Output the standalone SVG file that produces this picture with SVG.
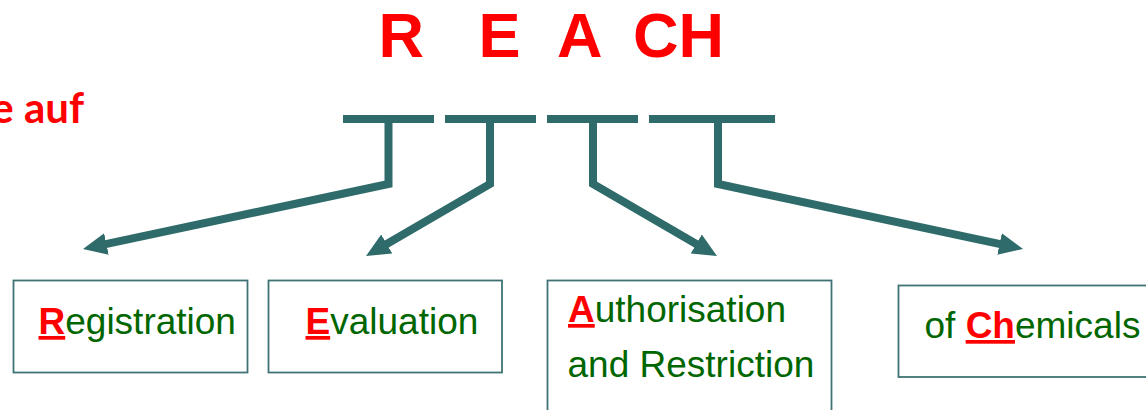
<svg xmlns="http://www.w3.org/2000/svg" width="1146" height="410" viewBox="0 0 1146 410">
  <style>
    .title { font-family: "Liberation Sans", Arial, sans-serif; font-weight: bold; font-size: 63px; fill: #FF0000; }
    .side { font-family: Lato, "Open Sans", sans-serif; font-weight: bold; font-size: 42px; fill: #FF0000; }
    .bar { stroke: #2E6B6A; stroke-width: 8; fill: none; }
    .conn { stroke: #2E6B6A; stroke-width: 8; fill: none; stroke-linejoin: miter; }
    .box { fill: #FFFFFF; stroke: #3F7373; stroke-width: 1.8; }
    .lbl { font-family: "Liberation Sans", Arial, sans-serif; font-size: 37px; fill: #006600; }
    .key { font-weight: bold; fill: #FF0000; text-decoration: underline; }
  </style>
  <defs>
    <marker id="head" viewBox="0 0 24 22" markerUnits="userSpaceOnUse" markerWidth="24" markerHeight="22" refX="2" refY="11" orient="auto">
      <path d="M0,0 L24,11 L0,22 Z" fill="#2E6B6A"/>
    </marker>
  </defs>

  <g id="title">
    <text class="title" y="57"><tspan x="378.5">R</tspan><tspan x="478.5">E</tspan><tspan x="557">A</tspan><tspan x="633">CH</tspan></text>
  </g>

  <g id="side-text">
    <text class="side" x="84" y="123" text-anchor="end">e auf</text>
  </g>

  <g id="bars">
    <line class="bar" x1="343" y1="119" x2="434" y2="119"/>
    <line class="bar" x1="445" y1="119" x2="536" y2="119"/>
    <line class="bar" x1="547" y1="119" x2="638" y2="119"/>
    <line class="bar" x1="649" y1="119" x2="775" y2="119"/>
  </g>

  <g id="connectors">
    <path class="conn" d="M388.5,119 V184 L104.5,244.4" marker-end="url(#head)"/>
    <path class="conn" d="M490,119 V184 L385,245" marker-end="url(#head)"/>
    <path class="conn" d="M593,119 V184 L698,245" marker-end="url(#head)"/>
    <path class="conn" d="M718,119 V184 L1001.5,244.4" marker-end="url(#head)"/>
  </g>

  <g id="node-registration">
    <rect class="box" x="13.5" y="280.5" width="234" height="92"/>
    <text class="lbl" x="38.5" y="334"><tspan class="key">R</tspan>egistration</text>
  </g>

  <g id="node-evaluation">
    <rect class="box" x="268.5" y="280.5" width="233.5" height="92"/>
    <text class="lbl" x="305.5" y="334"><tspan class="key">E</tspan>valuation</text>
  </g>

  <g id="node-authorisation">
    <rect class="box" x="547.5" y="280.5" width="284" height="140"/>
    <text class="lbl" x="568" y="322"><tspan class="key">A</tspan>uthorisation</text>
    <text class="lbl" x="567.5" y="377">and Restriction</text>
  </g>

  <g id="node-chemicals">
    <rect class="box" x="898.5" y="285.5" width="260" height="91.5"/>
    <text class="lbl" x="924.5" y="338">of <tspan class="key">Ch</tspan>emicals</text>
  </g>
</svg>
